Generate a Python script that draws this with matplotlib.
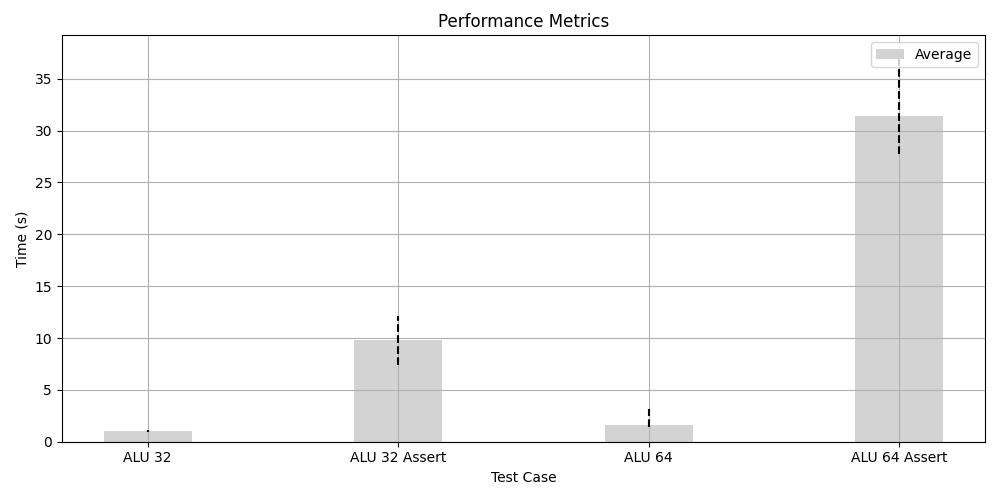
import numpy as np
import matplotlib
matplotlib.use("Agg")
import matplotlib.pyplot as plt

test_cases = ['ALU 32', 'ALU 32 Assert', 'ALU 64', 'ALU 64 Assert']
averages = [1.05, 9.8, 1.62, 31.4]
mins = [0.95, 7.4, 1.4, 27.7]
maxs = [1.15, 12.1, 3.15, 37.35]

x = np.arange(len(test_cases))

fig, ax = plt.subplots(figsize=(10, 5), dpi=100)
ax.bar(x, averages, width=0.35, color='lightgray', label='Average')
# min-max spread as dashed line
ax.vlines(x, mins, maxs, colors='black', linestyles='dashed', linewidth=1.5)

ax.set_xticks(x)
ax.set_xticklabels(test_cases)
ax.set_xlabel('Test Case')
ax.set_ylabel('Time (s)')
ax.set_title('Performance Metrics')
ax.legend(loc='upper right')
ax.grid(True)

plt.tight_layout()
fig.subplots_adjust(top=0.93)
plt.savefig('out.png')
